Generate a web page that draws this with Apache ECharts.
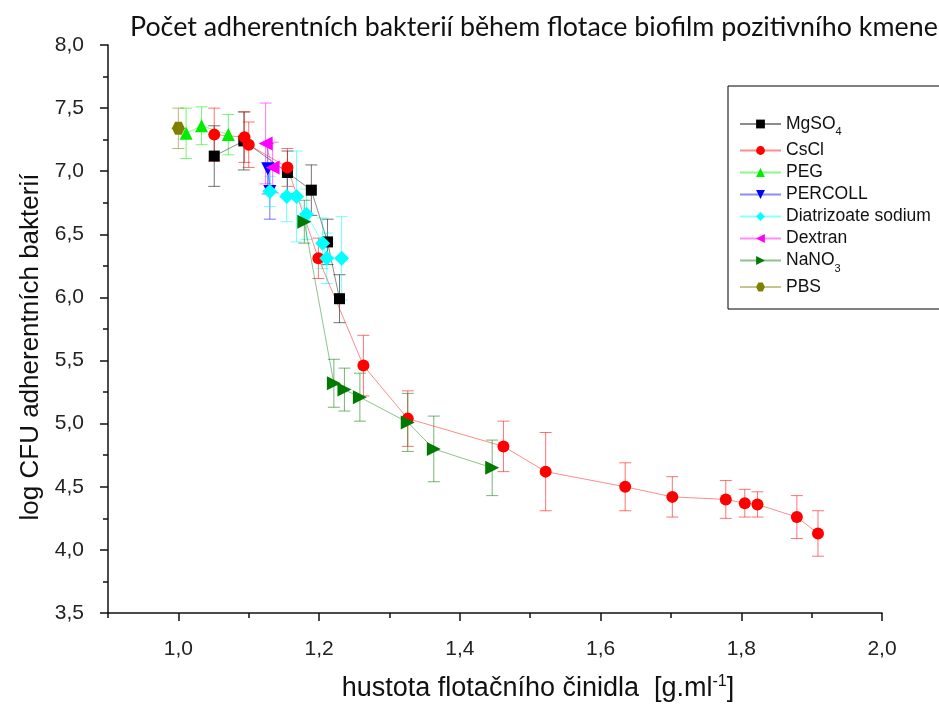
<!DOCTYPE html>
<html>
<head>
<meta charset="utf-8">
<title>Počet adherentních bakterií</title>
<script src="https://cdn.jsdelivr.net/npm/echarts@6/dist/echarts.min.js"></script>
<style>
  html, body { margin: 0; padding: 0; background: #fff; }
  #main { width: 939px; height: 704px; }
</style>
</head>
<body>
<div id="main"></div>
<script>
// values: x = density [g/ml], y = log CFU, err = +/- error bar
var mgso4X = [1.051, 1.093, 1.155, 1.189, 1.212, 1.229];
var mgso4Y = [7.12, 7.24, 6.99, 6.85, 6.44, 5.99];
var mgso4Err = [0.24, 0.23, 0.17, 0.20, 0.18, 0.19];

var csclX = [1.051, 1.094, 1.100, 1.155, 1.199, 1.263, 1.326, 1.462, 1.522, 1.635, 1.702, 1.778, 1.805, 1.823, 1.879, 1.909];
var csclY = [7.29, 7.27, 7.21, 7.03, 6.31, 5.46, 5.04, 4.82, 4.62, 4.50, 4.42, 4.40, 4.37, 4.36, 4.26, 4.13];
var csclErr = [0.21, 0.20, 0.18, 0.15, 0.16, 0.24, 0.22, 0.20, 0.31, 0.19, 0.16, 0.15, 0.11, 0.10, 0.17, 0.18];

var pegX = [1.011, 1.033, 1.071];
var pegY = [7.30, 7.36, 7.29];
var pegErr = [0.20, 0.15, 0.16];

var percollX = [1.127, 1.130];
var percollY = [7.02, 6.84];
var percollErr = [0.20, 0.22];

var diatrX = [1.130, 1.154, 1.168, 1.182, 1.205, 1.211, 1.232];
var diatrY = [6.84, 6.80, 6.80, 6.66, 6.43, 6.31, 6.31];
var diatrErr = [0.12, 0.20, 0.36, 0.20, 0.20, 0.20, 0.33];

var dextranX = [1.124, 1.134];
var dextranY = [7.22, 7.03];
var dextranErr = [0.32, 0.20];

var nano3X = [1.179, 1.221, 1.236, 1.258, 1.326, 1.363, 1.446];
var nano3Y = [6.60, 5.32, 5.27, 5.21, 5.01, 4.80, 4.65];
var nano3Err = [0.17, 0.19, 0.17, 0.19, 0.23, 0.26, 0.22];

var pbsX = [1.000];
var pbsY = [7.34];
var pbsErr = [0.16];

var xMajorTicks = [1.0, 1.2, 1.4, 1.6, 1.8, 2.0];
var xMinorTicks = [0.9, 1.1, 1.3, 1.5, 1.7, 1.9];

var hexagon = 'path://M-1,0 L-0.5,-0.866 L0.5,-0.866 L1,0 L0.5,0.866 L-0.5,0.866 Z';

var groups = [
    { name: 'MgSO4', x: mgso4X, y: mgso4Y, err: mgso4Err, color: '#000000', symbol: 'rect', size: 11, rotate: 0 },
    { name: 'CsCl', x: csclX, y: csclY, err: csclErr, color: '#ff0000', symbol: 'circle', size: 12, rotate: 0 },
    { name: 'PEG', x: pegX, y: pegY, err: pegErr, color: '#00ee00', symbol: 'triangle', size: 13, rotate: 0 },
    { name: 'PERCOLL', x: percollX, y: percollY, err: percollErr, color: '#0000ff', symbol: 'triangle', size: 13, rotate: 180 },
    { name: 'Diatrizoate sodium', x: diatrX, y: diatrY, err: diatrErr, color: '#00ffff', symbol: 'diamond', size: 15, rotate: 0 },
    { name: 'Dextran', x: dextranX, y: dextranY, err: dextranErr, color: '#ff00ff', symbol: 'triangle', size: 14, rotate: 90 },
    { name: 'NaNO3', x: nano3X, y: nano3Y, err: nano3Err, color: '#007a00', symbol: 'triangle', size: 14, rotate: -90 },
    { name: 'PBS', x: pbsX, y: pbsY, err: pbsErr, color: '#808000', symbol: hexagon, size: 13, rotate: 0 }
];

function comma(v) {
    return v.toFixed(1).replace('.', ',');
}

function errorBars(params, api) {
    var x = api.value(0), y = api.value(1), e = api.value(2);
    var top = api.coord([x, y + e]);
    var bot = api.coord([x, y - e]);
    var color = api.visual('color');
    var st = { stroke: color, lineWidth: 1, opacity: 0.55 };
    return {
        type: 'group',
        children: [
            { type: 'line', shape: { x1: top[0], y1: top[1], x2: bot[0], y2: bot[1] }, style: st },
            { type: 'line', shape: { x1: top[0] - 6, y1: top[1], x2: top[0] + 6, y2: top[1] }, style: st },
            { type: 'line', shape: { x1: bot[0] - 6, y1: bot[1], x2: bot[0] + 6, y2: bot[1] }, style: st }
        ]
    };
}

var series = [];
groups.forEach(function (g) {
    var bars = g.x.map(function (x, i) { return [x, g.y[i], g.err[i]]; });
    series.push({
        name: g.name + ' err',
        type: 'custom',
        renderItem: errorBars,
        itemStyle: { color: g.color },
        encode: { x: 0, y: 1 },
        data: bars,
        silent: true,
        z: 1
    });
});
groups.forEach(function (g) {
    series.push({
        name: g.name,
        type: 'line',
        data: g.x.map(function (x, i) { return [x, g.y[i]]; }),
        symbol: g.symbol,
        symbolSize: g.size,
        symbolRotate: g.rotate,
        showAllSymbol: true,
        color: g.color,
        itemStyle: { color: g.color },
        lineStyle: { color: g.color, width: 1, opacity: 0.45 },
        z: 3
    });
});

var dom = document.getElementById('main');
var myChart = echarts.init(dom, null, { renderer: 'canvas' });

var option = {
    animation: false,
    backgroundColor: '#ffffff',
    title: {
        text: 'Počet adherentních bakterií během flotace biofilm pozitivního kmene',
        left: 125,
        top: 9,
        textStyle: { fontFamily: 'Lato', fontSize: 26.8, fontWeight: 'normal', color: '#111' }
    },
    legend: {
        orient: 'vertical',
        left: 728,
        top: 86,
        padding: [29, 60, 13, 11],
        itemWidth: 41,
        itemHeight: 11,
        itemGap: 4,
        borderColor: '#000',
        borderWidth: 1,
        data: groups.map(function (g) { return g.name; }),
        formatter: function (name) {
            if (name === 'MgSO4') return 'MgSO{sub|4}';
            if (name === 'NaNO3') return 'NaNO{sub|3}';
            return name;
        },
        textStyle: {
            fontFamily: 'Liberation Sans',
            fontSize: 17.5,
            color: '#111',
            rich: {
                sub: { fontSize: 11, fontFamily: 'Liberation Sans', padding: [16, 0, 0, 0], color: '#111' }
            }
        }
    },
    grid: { left: 108, right: 57, top: 45, bottom: 91, outerBoundsMode: 'none', containLabel: false },
    xAxis: [{
        type: 'value',
        min: 0.9,
        max: 2.0,
        name: 'hustota flotačního činidla  [g.ml{sup|-1}]',
        nameLocation: 'middle',
        nameGap: 61,
        nameTextStyle: {
            fontFamily: 'Liberation Sans', fontSize: 27, color: '#111', padding: [0, 0, 0, 86],
            rich: { sup: { fontSize: 16, fontFamily: 'Liberation Sans', padding: [0, 0, 13, 0], color: '#111' } }
        },
        splitLine: { show: false },
        axisLine: { lineStyle: { color: '#111', width: 1.5 } },
        axisTick: { show: true, inside: false, length: 8, customValues: xMajorTicks, lineStyle: { color: '#111', width: 1.5 } },
        axisLabel: {
            customValues: xMajorTicks,
            margin: 26,
            fontFamily: 'Liberation Sans', fontSize: 21, color: '#222',
            formatter: function (v) { return comma(v); }
        }
    }, {
        type: 'value',
        min: 0.9,
        max: 2.0,
        position: 'bottom',
        splitLine: { show: false },
        axisLine: { show: false },
        axisTick: { show: true, inside: false, length: 5, customValues: xMinorTicks, lineStyle: { color: '#111', width: 1.5 } },
        axisLabel: { show: false }
    }],
    yAxis: {
        type: 'value',
        min: 3.5,
        max: 8.0,
        interval: 0.5,
        name: 'log CFU adherentních bakterií',
        nameLocation: 'middle',
        nameGap: 64,
        nameTextStyle: { fontFamily: 'Liberation Sans', fontSize: 26, color: '#111', padding: [0, 36, 0, 0] },
        splitLine: { show: false },
        axisLine: { show: true, lineStyle: { color: '#111', width: 1.5 } },
        axisTick: { show: true, inside: false, length: 8, lineStyle: { color: '#111', width: 1.5 } },
        minorTick: { show: true, splitNumber: 2, length: 5, lineStyle: { color: '#111', width: 1.5 } },
        axisLabel: {
            margin: 24,
            fontFamily: 'Liberation Sans', fontSize: 21, color: '#222',
            formatter: function (v) { return comma(v); }
        }
    },
    series: series
};

if (option && typeof option === 'object') {
    myChart.setOption(option);
}
</script>
</body>
</html>
